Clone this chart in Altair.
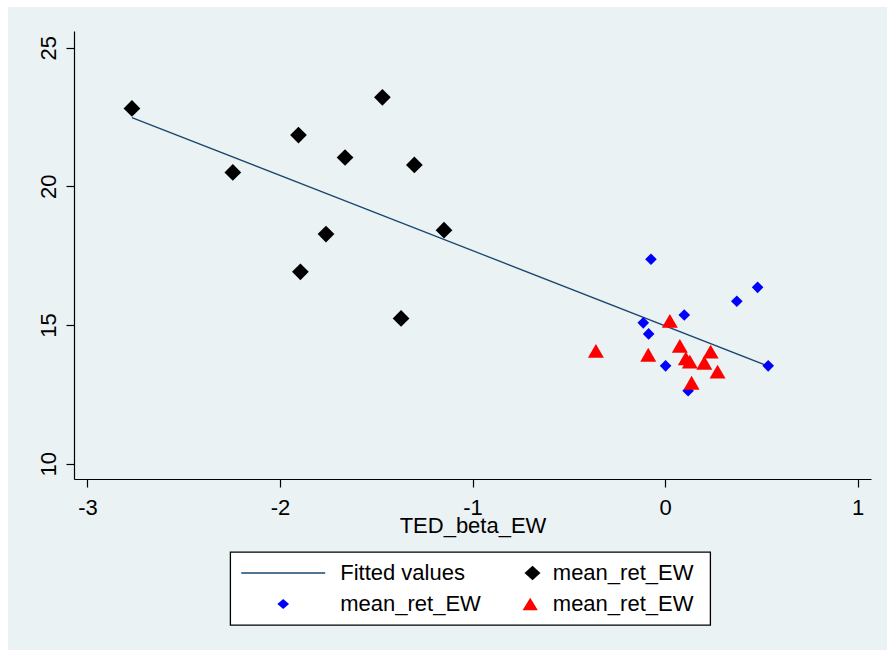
import altair as alt
import pandas as pd

# ---------------- data ----------------
black_x = [-2.769, -2.245, -1.904, -1.894, -1.761, -1.662, -1.468, -1.371, -1.302, -1.148]
black_y = [22.81, 20.50, 21.85, 16.92, 18.28, 21.04, 23.21, 15.24, 20.77, 18.42]

blue_x = [-0.073, 0.481, 0.373, 0.100, -0.113, -0.085, 0.003, 0.536, 0.120]
blue_y = [17.37, 16.36, 15.86, 15.36, 15.08, 14.68, 13.53, 13.53, 12.63]

red_x = [0.025, -0.359, -0.087, 0.077, 0.237, 0.108, 0.129, 0.204, 0.273, 0.138]
red_y = [15.15, 14.07, 13.93, 14.25, 14.04, 13.80, 13.68, 13.64, 13.32, 12.92]

fit_x = [-2.769, 0.536]
fit_y = [22.48, 13.52]

x_ticks = [-3, -2, -1, 0, 1]
y_ticks = [10, 15, 20, 25]

# legend: left column (Fitted values, blue) and right column (black, red)
legA_keys = ["fit", "blue"]
legA_labels = ["Fitted values", "mean_ret_EW"]
legB_keys = ["black", "red"]
legB_labels = ["mean_ret_EW", "mean_ret_EW"]

# ---------------- styling ----------------
FONT = "Liberation Sans"
BG = "#EAF2F3"
NAVY = "#1A476F"
legA_colors = [NAVY, "#0000FF"]
legB_colors = ["#000000", "#FF0000"]
# legend symbol paths (units of symbol radius)
legA_paths = [
    "M-1,-0.065L7.4,-0.065L7.4,0.065L-1,0.065Z",
    "M2.615,0L3.2,-0.5L3.785,0L3.2,0.5ZM44.9,0",
]
legB_paths = [
    "M-0.8,0L0,-0.73L0.8,0L0,0.73Z",
    "M-0.23,-0.615L0.535,0.615L-0.995,0.615Z",
]

W, H = 797, 448

x_scale = alt.Scale(domain=[-3.07, 1.07], nice=False, zero=False)
y_scale = alt.Scale(domain=[9.45, 25.6], nice=False, zero=False)

x_axis = alt.Axis(
    values=x_ticks, title="TED_beta_EW", grid=False,
    labelExpr="datum.value + ''", tickSize=8, labelPadding=27,
    labelBaseline="alphabetic", labelFlush=False,
    titleY=53.5, titleBaseline="alphabetic",
)
y_axis = alt.Axis(
    values=y_ticks, title=None, grid=True, gridColor=BG, gridWidth=1.5,
    labelExpr="datum.value + ''", labelAngle=270, labelAlign="center",
    labelBaseline="alphabetic", labelPadding=11, tickSize=8, labelFlush=False,
)

X = alt.X("x:Q", scale=x_scale, axis=x_axis, title="TED_beta_EW")
Y = alt.Y("y:Q", scale=y_scale, axis=y_axis)

df_black = pd.DataFrame({"x": black_x, "y": black_y})
df_blue = pd.DataFrame({"x": blue_x, "y": blue_y})
df_red = pd.DataFrame({"x": red_x, "y": red_y})
df_fit = pd.DataFrame({"x": fit_x, "y": fit_y})

fit = alt.Chart(df_fit).mark_line(color=NAVY, strokeWidth=1.3).encode(x=X, y=Y)
black = alt.Chart(df_black).mark_point(
    shape="diamond", filled=True, size=280, color="#000000", opacity=1
).encode(x=X, y=Y)
blue = alt.Chart(df_blue).mark_point(
    shape="diamond", filled=True, size=135, color="#0000FF", opacity=1
).encode(x=X, y=Y)
red = alt.Chart(df_red).mark_point(
    shape="triangle-up", filled=True, size=256, color="#FF0000", opacity=1
).encode(x=X, y=Y)


def label_expr(keys, labels):
    return " : ".join(
        [f"datum.value == '{k}' ? '{l}'" for k, l in zip(keys[:-1], labels[:-1])]
    ) + f" : '{labels[-1]}'"


common = dict(
    title=None, orient="none", direction="vertical", rowPadding=9,
    symbolSize=400, symbolStrokeWidth=0, symbolOpacity=1, labelLimit=600,
    labelFont=FONT, labelFontSize=22, labelColor="#000000", padding=10,
    legendY=521,
)
legA_def = alt.Legend(
    legendX=156.2, labelOffset=78, labelExpr=label_expr(legA_keys, legA_labels),
    fillColor="white", strokeColor="#000000", **common
)
legB_def = alt.Legend(
    legendX=437.5, labelOffset=9.3, labelExpr=label_expr(legB_keys, legB_labels),
    **common
)

legA_layer = alt.Chart(pd.DataFrame({"keyA": legA_keys})).transform_filter("false").mark_point(
    filled=True, opacity=1
).encode(
    color=alt.Color("keyA:N", scale=alt.Scale(domain=legA_keys, range=legA_colors), legend=legA_def),
    shape=alt.Shape("keyA:N", scale=alt.Scale(domain=legA_keys, range=legA_paths), legend=legA_def),
)
legB_layer = alt.Chart(pd.DataFrame({"keyB": legB_keys})).transform_filter("false").mark_point(
    filled=True, opacity=1
).encode(
    color=alt.Color("keyB:N", scale=alt.Scale(domain=legB_keys, range=legB_colors), legend=legB_def),
    shape=alt.Shape("keyB:N", scale=alt.Scale(domain=legB_keys, range=legB_paths), legend=legB_def),
)

strip_df = pd.DataFrame({"k": [0]})
left_strip = alt.Chart(strip_df).mark_rect(color="white").encode(
    x=alt.value(-74), x2=alt.value(-66), y=alt.value(-31), y2=alt.value(H + 171)
)
top_strip = alt.Chart(strip_df).mark_rect(color="white").encode(
    x=alt.value(-74), x2=alt.value(W + 16), y=alt.value(-31), y2=alt.value(-24)
)

chart = alt.layer(
    left_strip, top_strip, fit, black, blue, red, legA_layer, legB_layer
).resolve_scale(
    color="independent", shape="independent"
).properties(
    width=W, height=H,
    background=BG,
    padding={"left": 74, "top": 31, "right": 16, "bottom": 171},
    autosize=alt.AutoSizeParams(type="none"),
).configure_view(
    fill="white", stroke="transparent"
).configure_axis(
    labelFont=FONT, labelFontSize=22, labelColor="#000000",
    titleFont=FONT, titleFontSize=22, titleColor="#000000", titleFontWeight="normal",
    domainColor="#000000", domainWidth=1.2, tickColor="#000000", tickWidth=1.2,
).configure_legend(
    strokeWidth=1.3,
)

chart.save("out.html", embed_options={"renderer": "svg", "actions": False})
